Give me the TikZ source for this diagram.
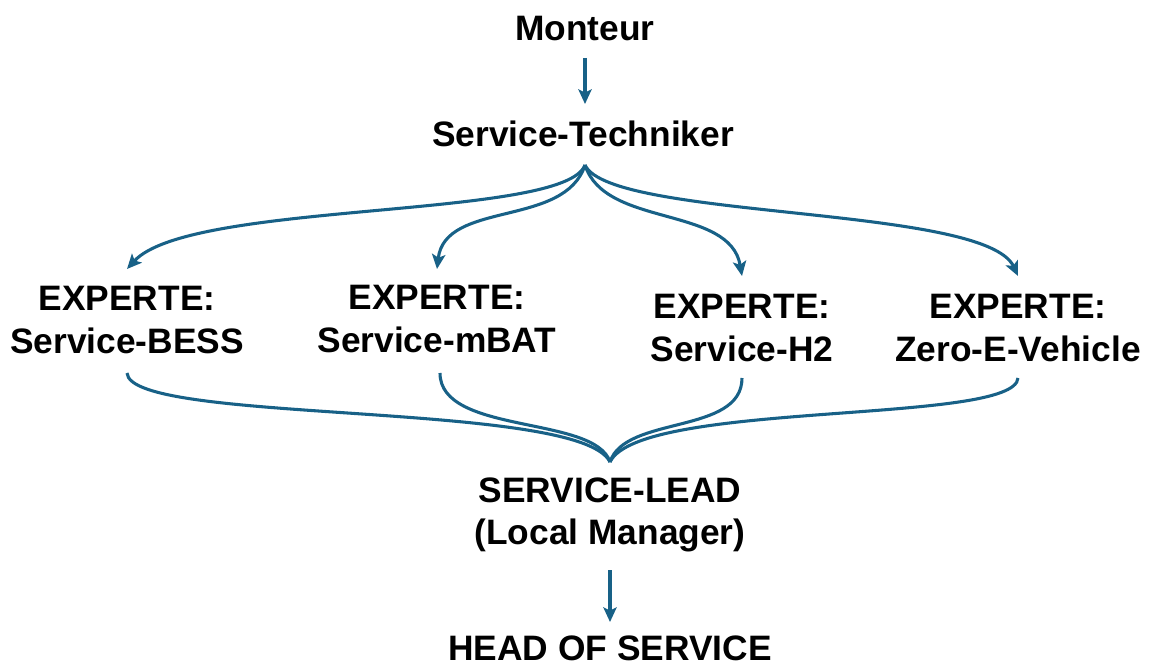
\documentclass[tikz,border=0pt]{standalone}
\usepackage{fontspec}
\setmainfont{Liberation Sans}
\usetikzlibrary{arrows.meta}
\definecolor{link}{RGB}{24,97,135}
\begin{document}
\begin{tikzpicture}[x=0.75pt,y=-0.75pt,
  lbl/.style={font=\fontsize{26.5}{32}\selectfont\bfseries, align=center, inner sep=0pt},
  conn/.style={draw=link, line width=2.3pt},
  arr/.style={conn, -{Stealth[length=11pt,width=10pt,inset=2.5pt]}}]
\useasboundingbox (0,0) rectangle (1153,666);
\node[lbl] (mont) at (585,29) {Monteur};
\node[lbl] (tech) at (583,134) {Service-Techniker};
\node[lbl] (bess) at (127,320) {EXPERTE:\\Service-BESS};
\node[lbl] (mbat) at (437,319) {EXPERTE:\\Service-mBAT};
\node[lbl] (h2) at (742,328) {EXPERTE:\\Service-H2};
\node[lbl] (zero) at (1018,328) {EXPERTE:\\Zero-E-Vehicle};
\node[lbl] (lead) at (610,515) {SERVICE-LEAD\\(Local Manager)};
\node[lbl] (head) at (610,648) {HEAD OF SERVICE};
\coordinate (fork) at (585,165);
\coordinate (join) at (610,462);
\coordinate (bessT) at (127,269);
\coordinate (mbatT) at (437,269);
\coordinate (h2T) at (742,276);
\coordinate (zeroT) at (1018,276);
\coordinate (bessB) at (127,373);
\coordinate (mbatB) at (440,373);
\coordinate (h2B) at (742,378);
\coordinate (zeroB) at (1018,378);
\draw[arr] (585,58) -- (585,104);
\draw[arr] (fork) .. controls (565,220) and (190,200) .. (bessT);
\draw[arr] (fork) .. controls (565,228) and (445,200) .. (mbatT);
\draw[arr] (fork) .. controls (605,228) and (730,205) .. (h2T);
\draw[arr] (fork) .. controls (610,220) and (985,205) .. (zeroT);
\draw[conn] (bessB) .. controls (130,425) and (580,400) .. (join);
\draw[conn] (mbatB) .. controls (440,435) and (595,415) .. (join);
\draw[conn] (h2B) .. controls (742,435) and (625,415) .. (join);
\draw[conn] (zeroB) .. controls (1015,425) and (640,400) .. (join);
\draw[arr] (610,570) -- (610,622);
\end{tikzpicture}
\end{document}
